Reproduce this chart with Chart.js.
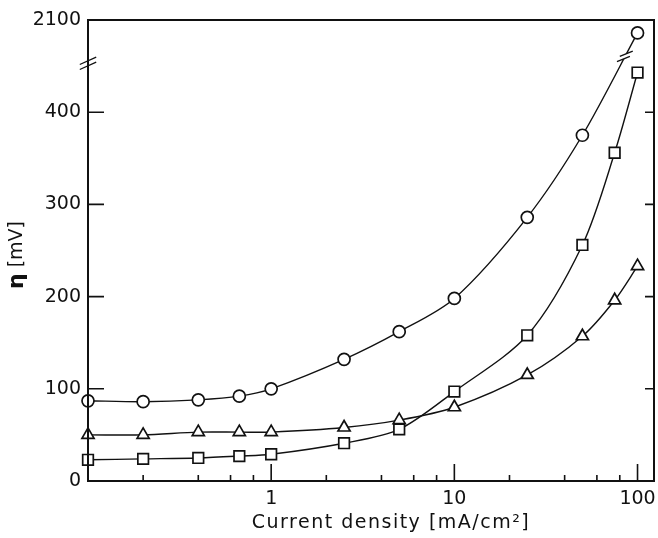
<!DOCTYPE html>
<html>
<head>
<meta charset="utf-8">
<script src="https://cdn.jsdelivr.net/npm/chart.js@4/dist/chart.umd.min.js"></script>
<style>
  body { margin: 0; background: #fff; }
  #wrap { width: 658px; height: 538px; }
</style>
</head>
<body>
<div id="wrap"><canvas id="etaChart" width="658" height="538"></canvas></div>
<script>
// current density, mA/cm2
const currentDensity = [0.1, 0.2, 0.4, 0.67, 1, 2.5, 5, 10, 25, 50, 75, 100];
// overpotential, mV (circle at 100 sits above the axis break; frame top 500 is labelled 2100)
const circleEta = [87, 86, 88, 92, 100, 132, 162, 198, 286, 375, null, 486];
const triangleEta = [50, 50, 53, 53, 53, 58, 66, 80, 115, 157, 196, 233];
const squareEta = [23, 24, 25, 27, 29, 41, 56, 97, 158, 256, 356, 443];

const yTicks = [0, 100, 200, 300, 400, 500];
const yTickLabels = ["0", "100", "200", "300", "400", "2100"];
const yBreakAt = 453;
const xTicks = [1, 10, 100];
const xMinorTicks = [0.2, 0.4, 0.6, 0.8, 2, 4, 6, 8, 20, 40, 60, 80];

const FONT = "'DejaVu Sans', sans-serif";
const INK = "#111";

function points(values) {
  return currentDensity.map((x, i) => ({ x: x, y: values[i] }));
}

function series(values, shape, radius) {
  return {
    data: points(values),
    borderColor: INK,
    borderWidth: 1.4,
    pointStyle: shape,
    pointRadius: radius,
    pointBorderWidth: 1.7,
    pointBackgroundColor: "#fff",
    pointBorderColor: INK,
    tension: 0.3,
    spanGaps: true,
    clip: false
  };
}

function slash(ctx, cx, cy, len, ang) {
  const dx = Math.cos(ang) * len, dy = Math.sin(ang) * len;
  ctx.moveTo(cx - dx, cy - dy);
  ctx.lineTo(cx + dx, cy + dy);
}

/* frame, inward ticks, breaks and axis titles */
const framePlugin = {
  id: "framePlugin",
  afterDatasetsDraw(chart) {
    // break marks on the circle curve between 50 and 100
    const { ctx } = chart;
    const meta = chart.getDatasetMeta(0);
    const p1 = meta.data[9], p2 = meta.data[11];
    const t = 0.77;
    const cx = p1.x + (p2.x - p1.x) * t;
    const cy = p1.y + (p2.y - p1.y) * t;
    const L = Math.hypot(p2.x - p1.x, p2.y - p1.y);
    const ux = (p2.x - p1.x) / L, uy = (p2.y - p1.y) / L;
    const ang = -22 * Math.PI / 180;
    const sx = Math.cos(ang) * 7, sy = Math.sin(ang) * 7;
    const g = 3;
    ctx.save();
    ctx.fillStyle = "#fff";
    ctx.beginPath();
    ctx.moveTo(cx - ux * g - sx, cy - uy * g - sy);
    ctx.lineTo(cx - ux * g + sx, cy - uy * g + sy);
    ctx.lineTo(cx + ux * g + sx, cy + uy * g + sy);
    ctx.lineTo(cx + ux * g - sx, cy + uy * g - sy);
    ctx.closePath();
    ctx.fill();
    ctx.strokeStyle = INK;
    ctx.lineWidth = 1.3;
    ctx.beginPath();
    slash(ctx, cx - ux * g, cy - uy * g, 7, ang);
    slash(ctx, cx + ux * g, cy + uy * g, 7, ang);
    ctx.stroke();
    ctx.restore();
  },
  afterDraw(chart) {
    const { ctx, chartArea: a, scales: { x, y } } = chart;
    ctx.save();
    ctx.strokeStyle = INK;
    ctx.lineWidth = 2;
    ctx.strokeRect(a.left, a.top, a.right - a.left, a.bottom - a.top);

    ctx.lineWidth = 1.6;
    ctx.beginPath();
    yTicks.slice(1, 5).forEach(v => {
      const py = y.getPixelForValue(v);
      ctx.moveTo(a.left, py); ctx.lineTo(a.left + 16, py);
      ctx.moveTo(a.right, py); ctx.lineTo(a.right - 9, py);
    });
    xTicks.forEach(v => {
      const px = x.getPixelForValue(v);
      ctx.moveTo(px, a.bottom); ctx.lineTo(px, a.bottom - 17);
    });
    xMinorTicks.forEach(v => {
      const px = x.getPixelForValue(v);
      ctx.moveTo(px, a.bottom); ctx.lineTo(px, a.bottom - 6);
    });
    ctx.stroke();

    // axis break on the left axis
    const by = y.getPixelForValue(yBreakAt);
    ctx.lineWidth = 1.3;
    ctx.beginPath();
    slash(ctx, a.left, by - 2.5, 9, -24 * Math.PI / 180);
    slash(ctx, a.left, by + 2.5, 9, -24 * Math.PI / 180);
    ctx.stroke();

    // axis titles
    ctx.fillStyle = INK;
    ctx.textBaseline = "middle";
    ctx.textAlign = "center";
    ctx.font = "19px " + FONT;
    ctx.letterSpacing = "1.5px";
    ctx.fillText("Current density [mA/cm\u00B2]", (a.left + a.right) / 2 + 20, 523);
    ctx.letterSpacing = "0px";

    ctx.translate(17, 255);
    ctx.rotate(-Math.PI / 2);
    ctx.textAlign = "left";
    ctx.font = "bold 22px " + FONT;
    const etaW = ctx.measureText("\u03B7").width;
    ctx.font = "19px " + FONT;
    const unitW = ctx.measureText(" [mV]").width;
    const x0 = -(etaW + unitW) / 2;
    ctx.font = "bold 22px " + FONT;
    ctx.fillText("\u03B7", x0, 0);
    ctx.font = "19px " + FONT;
    ctx.fillText(" [mV]", x0 + etaW, 0);
    ctx.restore();
  }
};

const ctx = document.getElementById("etaChart").getContext("2d");
new Chart(ctx, {
  type: "line",
  data: {
    datasets: [
      series(circleEta, "circle", 6),
      series(triangleEta, "triangle", 7),
      series(squareEta, "rect", 7.5)
    ]
  },
  options: {
    responsive: false,
    animation: false,
    layout: { autoPadding: false, padding: { top: 20, right: 4, left: 0, bottom: 0 } },
    plugins: { legend: { display: false }, tooltip: { enabled: false } },
    scales: {
      x: {
        type: "logarithmic",
        min: 0.1,
        max: 123,
        grid: { display: false, drawTicks: false },
        border: { display: false },
        afterBuildTicks: s => { s.ticks = xTicks.map(v => ({ value: v })); },
        afterFit: s => { s.height = 57; s.paddingLeft = 0; s.paddingRight = 0; },
        ticks: {
          padding: 7,
          autoSkip: false,
          maxRotation: 0,
          color: INK,
          font: { family: FONT, size: 19 },
          callback: v => String(v)
        }
      },
      y: {
        min: 0,
        max: 500,
        grid: { display: false, drawTicks: false },
        border: { display: false },
        afterBuildTicks: s => { s.ticks = yTicks.map(v => ({ value: v })); },
        afterFit: s => { s.width = 88; s.paddingTop = 0; s.paddingBottom = 0; },
        ticks: {
          padding: 7,
          color: INK,
          font: { family: FONT, size: 19 },
          callback: v => yTickLabels[yTicks.indexOf(v)]
        }
      }
    }
  },
  plugins: [framePlugin]
});
</script>
</body>
</html>
